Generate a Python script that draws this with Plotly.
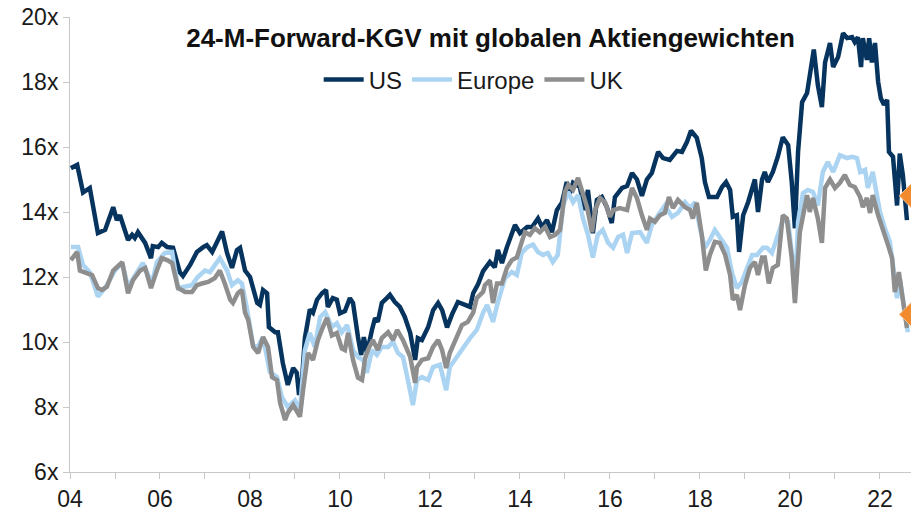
import plotly.graph_objects as go

# ---------------- data ----------------
us_dates = [2004.02, 2004.16, 2004.29, 2004.44, 2004.62, 2004.78, 2004.96, 2005.04, 2005.11, 2005.29,
            2005.38, 2005.44, 2005.51, 2005.67, 2005.80, 2005.84, 2005.96, 2006.04, 2006.16, 2006.29,
            2006.44, 2006.51, 2006.67, 2006.82, 2006.96, 2007.04, 2007.16, 2007.27, 2007.38, 2007.49,
            2007.60, 2007.71, 2007.78, 2007.89, 2008.00, 2008.16, 2008.22, 2008.29, 2008.38, 2008.42,
            2008.56, 2008.62, 2008.73, 2008.84, 2008.96, 2009.04, 2009.09, 2009.16, 2009.22, 2009.33,
            2009.40, 2009.49, 2009.60, 2009.69, 2009.73, 2009.84, 2009.93, 2010.00, 2010.11, 2010.22,
            2010.29, 2010.40, 2010.47, 2010.53, 2010.60, 2010.71, 2010.78, 2010.84, 2010.93, 2011.04,
            2011.11, 2011.22, 2011.33, 2011.44, 2011.56, 2011.67, 2011.73, 2011.82, 2011.96, 2012.07,
            2012.18, 2012.27, 2012.38, 2012.49, 2012.62, 2012.78, 2012.89, 2012.96, 2013.07, 2013.18,
            2013.33, 2013.44, 2013.51, 2013.60, 2013.71, 2013.89, 2014.00, 2014.16, 2014.27, 2014.40,
            2014.49, 2014.60, 2014.71, 2014.82, 2014.93, 2015.04, 2015.11, 2015.18, 2015.33, 2015.44,
            2015.51, 2015.62, 2015.71, 2015.82, 2015.93, 2016.04, 2016.11, 2016.27, 2016.38, 2016.49,
            2016.60, 2016.71, 2016.82, 2016.93, 2017.07, 2017.18, 2017.33, 2017.49, 2017.60, 2017.71,
            2017.80, 2017.93, 2018.04, 2018.11, 2018.20, 2018.38, 2018.49, 2018.58, 2018.67, 2018.73,
            2018.82, 2018.87, 2018.96, 2019.07, 2019.22, 2019.29, 2019.38, 2019.44, 2019.51, 2019.62,
            2019.73, 2019.84, 2019.96, 2020.04, 2020.11, 2020.18, 2020.27, 2020.38, 2020.44, 2020.53,
            2020.62, 2020.71, 2020.78, 2020.89, 2020.96, 2021.07, 2021.18, 2021.27, 2021.38, 2021.44,
            2021.51, 2021.58, 2021.62, 2021.71, 2021.76, 2021.82, 2021.89, 2021.96, 2022.02, 2022.09,
            2022.16, 2022.20, 2022.29, 2022.38, 2022.44, 2022.51, 2022.60]
us_values = [15.35, 15.45, 14.6, 14.74, 13.35, 13.45, 14.15, 13.75, 13.9, 13.14,
             13.3, 13.2, 13.38, 13.05, 12.58, 12.95, 12.92, 13.05, 12.92, 12.9,
             12.15, 12.03, 12.37, 12.77, 12.92, 12.98, 12.77, 13.05, 13.4, 12.74,
             12.28, 12.83, 12.9, 12.2, 12.0, 11.2, 11.14, 11.6, 11.5, 10.46,
             10.3, 10.3, 9.35, 8.68, 9.2, 9.05, 8.37, 8.92, 10.12, 11.0,
             10.9, 11.3, 11.5, 11.6, 11.08, 11.35, 11.3, 10.88, 10.95, 11.35,
             11.2, 10.15, 9.6, 10.15, 9.66, 10.37, 10.74, 10.62, 11.2, 11.35,
             11.45, 11.23, 11.08, 10.77, 10.28, 9.45, 10.12, 10.06, 10.46, 10.98,
             11.2, 10.98, 10.45, 10.85, 11.23, 11.14, 11.08, 11.5, 11.78, 12.18,
             12.46, 12.3, 12.83, 12.43, 12.92, 13.6, 13.35, 13.54, 13.54, 13.8,
             13.54, 13.75, 13.38, 14.06, 14.28, 14.92, 14.58, 14.9, 14.77, 14.06,
             14.68, 13.35, 14.37, 14.46, 14.15, 13.66, 14.46, 14.74, 14.8, 15.2,
             15.0, 14.5, 15.0, 15.2, 15.85, 15.66, 15.6, 15.88, 15.85, 16.15,
             16.5, 16.28, 15.66, 14.92, 14.46, 14.46, 14.77, 14.92, 14.68, 13.85,
             13.9, 12.77, 13.9, 14.3, 15.0, 14.0, 15.0, 15.23, 14.92, 15.23,
             15.7, 16.3, 16.06, 14.92, 13.5, 15.85, 17.38, 17.66, 18.3, 19.0,
             17.9, 17.23, 18.6, 19.2, 18.46, 18.77, 19.5, 19.35, 19.38, 19.23,
             19.38, 18.46, 19.35, 18.68, 19.35, 18.6, 19.2, 18.0, 17.5, 17.3,
             17.45, 15.85, 15.7, 14.2, 15.8, 15.12, 13.75]

europe_dates = [2004.02, 2004.18, 2004.29, 2004.44, 2004.62, 2004.78, 2005.00, 2005.16, 2005.29, 2005.49,
                2005.62, 2005.82, 2005.93, 2006.11, 2006.27, 2006.40, 2006.56, 2006.71, 2006.84, 2007.00,
                2007.11, 2007.33, 2007.49, 2007.60, 2007.73, 2007.82, 2007.93, 2008.07, 2008.18, 2008.29,
                2008.44, 2008.60, 2008.71, 2008.84, 2009.00, 2009.11, 2009.22, 2009.33, 2009.44, 2009.56,
                2009.67, 2009.82, 2009.93, 2010.04, 2010.16, 2010.29, 2010.40, 2010.51, 2010.60, 2010.71,
                2010.82, 2010.93, 2011.07, 2011.18, 2011.29, 2011.40, 2011.51, 2011.62, 2011.71, 2011.82,
                2011.96, 2012.07, 2012.22, 2012.36, 2012.44, 2012.60, 2012.73, 2012.89, 2013.04, 2013.18,
                2013.27, 2013.40, 2013.51, 2013.67, 2013.82, 2013.93, 2014.04, 2014.16, 2014.29, 2014.40,
                2014.51, 2014.62, 2014.73, 2014.84, 2014.96, 2015.07, 2015.18, 2015.29, 2015.40, 2015.51,
                2015.62, 2015.73, 2015.84, 2015.96, 2016.07, 2016.18, 2016.29, 2016.38, 2016.49, 2016.67,
                2016.82, 2016.93, 2017.07, 2017.22, 2017.38, 2017.51, 2017.67, 2017.78, 2017.89, 2018.00,
                2018.11, 2018.22, 2018.33, 2018.44, 2018.60, 2018.71, 2018.82, 2018.93, 2019.04, 2019.16,
                2019.27, 2019.40, 2019.49, 2019.60, 2019.71, 2019.84, 2019.96, 2020.07, 2020.11, 2020.18,
                2020.29, 2020.40, 2020.51, 2020.62, 2020.73, 2020.84, 2020.96, 2021.11, 2021.27, 2021.38,
                2021.49, 2021.56, 2021.67, 2021.73, 2021.84, 2021.93, 2022.00, 2022.11, 2022.22, 2022.29,
                2022.38, 2022.44, 2022.53, 2022.62]
europe_values = [12.92, 12.92, 12.37, 12.15, 11.4, 11.66, 12.2, 12.43, 11.7, 12.15,
                 12.43, 11.8, 12.46, 12.74, 12.77, 11.66, 11.7, 11.75, 12.0, 12.2,
                 12.15, 12.58, 12.2, 11.75, 11.9, 11.8, 11.05, 9.9, 9.85, 10.15,
                 9.08, 8.92, 8.3, 8.0, 8.2, 7.9, 9.75, 10.28, 9.85, 10.77,
                 10.92, 10.46, 10.58, 10.3, 10.52, 9.75, 9.54, 9.45, 9.05, 9.75,
                 9.6, 9.85, 9.85, 10.0, 9.66, 9.54, 8.83, 8.06, 8.83, 8.92,
                 8.83, 9.23, 9.3, 8.52, 9.23, 9.54, 9.85, 10.12, 10.37, 10.9,
                 11.14, 10.62, 11.23, 11.97, 12.15, 12.06, 12.74, 12.92, 13.0, 12.77,
                 12.68, 12.74, 12.46, 12.68, 14.2, 14.62, 14.3, 14.52, 13.8, 13.3,
                 12.6, 13.3, 13.45, 13.05, 12.9, 13.23, 13.3, 12.74, 13.35, 13.38,
                 13.05, 13.6, 13.9, 14.2, 13.85, 13.97, 14.3, 14.12, 14.3, 13.5,
                 12.9, 13.14, 13.45, 13.2, 12.9, 12.15, 11.66, 11.85, 12.28, 12.68,
                 12.68, 12.9, 12.9, 12.74, 13.2, 13.75, 13.7, 12.4, 11.35, 13.7,
                 14.58, 14.68, 14.62, 14.2, 15.23, 15.54, 15.23, 15.75, 15.66, 15.7,
                 15.66, 15.23, 15.3, 14.74, 15.23, 14.52, 14.0, 13.5, 13.08, 12.37,
                 11.35, 11.97, 11.05, 10.3]

uk_dates = [2004.02, 2004.16, 2004.22, 2004.38, 2004.49, 2004.62, 2004.71, 2004.82, 2004.96, 2005.16,
            2005.29, 2005.40, 2005.56, 2005.67, 2005.80, 2005.93, 2006.04, 2006.16, 2006.27, 2006.40,
            2006.56, 2006.71, 2006.82, 2006.93, 2007.07, 2007.22, 2007.33, 2007.44, 2007.56, 2007.62,
            2007.73, 2007.82, 2007.89, 2007.96, 2008.07, 2008.18, 2008.29, 2008.40, 2008.49, 2008.60,
            2008.67, 2008.78, 2008.84, 2008.96, 2009.11, 2009.18, 2009.29, 2009.40, 2009.51, 2009.62,
            2009.71, 2009.82, 2009.93, 2010.04, 2010.11, 2010.18, 2010.29, 2010.40, 2010.49, 2010.56,
            2010.62, 2010.73, 2010.84, 2010.93, 2011.07, 2011.18, 2011.27, 2011.40, 2011.56, 2011.67,
            2011.71, 2011.82, 2011.96, 2012.07, 2012.18, 2012.27, 2012.36, 2012.44, 2012.56, 2012.71,
            2012.84, 2012.96, 2013.04, 2013.18, 2013.22, 2013.33, 2013.40, 2013.49, 2013.60, 2013.71,
            2013.82, 2013.93, 2014.04, 2014.11, 2014.22, 2014.33, 2014.44, 2014.56, 2014.67, 2014.78,
            2014.89, 2015.00, 2015.07, 2015.18, 2015.29, 2015.38, 2015.49, 2015.60, 2015.67, 2015.78,
            2015.89, 2016.00, 2016.07, 2016.22, 2016.38, 2016.49, 2016.60, 2016.71, 2016.82, 2016.89,
            2017.00, 2017.11, 2017.22, 2017.31, 2017.40, 2017.51, 2017.67, 2017.78, 2017.84, 2017.93,
            2018.04, 2018.13, 2018.22, 2018.33, 2018.44, 2018.56, 2018.67, 2018.73, 2018.82, 2018.89,
            2019.00, 2019.11, 2019.22, 2019.29, 2019.38, 2019.44, 2019.53, 2019.62, 2019.73, 2019.84,
            2019.93, 2020.04, 2020.11, 2020.22, 2020.38, 2020.44, 2020.51, 2020.62, 2020.71, 2020.78,
            2020.89, 2021.00, 2021.11, 2021.22, 2021.33, 2021.44, 2021.56, 2021.62, 2021.71, 2021.78,
            2021.84, 2021.96, 2022.07, 2022.18, 2022.27, 2022.33, 2022.42, 2022.51, 2022.60]
uk_values = [12.52, 12.77, 12.2, 12.12, 12.06, 11.66, 11.6, 11.7, 12.2, 12.46,
             11.5, 11.9, 12.2, 12.28, 11.66, 12.2, 12.58, 12.52, 12.43, 11.66,
             11.54, 11.54, 11.75, 11.8, 11.85, 11.97, 12.2, 11.8, 11.3, 11.2,
             11.5, 11.6, 10.9, 10.68, 9.85, 9.66, 10.15, 9.85, 8.92, 8.83,
             8.12, 7.6, 7.82, 8.06, 7.7, 8.52, 9.66, 9.45, 10.06, 10.46,
             10.74, 10.2, 10.28, 9.8, 9.75, 10.28, 9.45, 8.9, 8.83, 9.5,
             9.75, 10.06, 9.75, 10.12, 10.3, 10.06, 10.37, 10.06, 9.54, 8.74,
             9.23, 9.45, 9.5, 9.85, 10.06, 9.75, 9.2, 9.66, 10.06, 10.52,
             10.62, 10.9, 11.35, 11.54, 11.75, 11.9, 11.2, 11.8, 11.8, 12.28,
             12.52, 12.6, 13.08, 13.38, 13.3, 13.5, 13.38, 13.54, 13.23, 13.3,
             13.45, 14.62, 14.83, 14.68, 15.05, 14.62, 14.15, 13.38, 14.06, 14.43,
             14.3, 13.85, 14.06, 14.12, 14.06, 14.74, 14.43, 13.9, 13.45, 13.8,
             13.7, 13.9, 13.97, 14.46, 14.12, 14.37, 14.15, 14.06, 13.8, 14.28,
             13.3, 12.2, 12.68, 13.08, 13.05, 12.68, 12.06, 11.3, 11.45, 10.98,
             11.75, 12.28, 12.46, 12.06, 12.6, 12.6, 11.8, 12.28, 12.37, 13.9,
             13.8, 12.58, 11.2, 13.38, 14.52, 14.0, 14.43, 13.8, 13.05, 14.74,
             15.0, 14.74, 14.9, 15.14, 14.83, 14.77, 14.46, 14.15, 14.43, 13.97,
             14.52, 13.9, 13.38, 12.98, 12.58, 11.54, 12.15, 11.23, 10.43]

latest_date = [2022.69, 2022.69]
latest_values = [14.5, 10.85]

x_tick_years = [2004, 2006, 2008, 2010, 2012, 2014, 2016, 2018, 2020, 2022]
x_tick_labels = ["04", "06", "08", "10", "12", "14", "16", "18", "20", "22"]
y_tick_values = [6, 8, 10, 12, 14, 16, 18, 20]
y_tick_labels = ["6x", "8x", "10x", "12x", "14x", "16x", "18x", "20x"]

# ---------------- figure ----------------
FONT = "Liberation Sans, Arial, sans-serif"
fig = go.Figure()
fig.add_trace(go.Scatter(x=us_dates, y=us_values, mode="lines", name="US",
                         line=dict(color="#06345E", width=4.5)))
fig.add_trace(go.Scatter(x=europe_dates, y=europe_values, mode="lines", name="Europe",
                         line=dict(color="#ABD4F2", width=4.5)))
fig.add_trace(go.Scatter(x=uk_dates, y=uk_values, mode="lines", name="UK",
                         line=dict(color="#8E8E8E", width=4.5)))
fig.add_trace(go.Scatter(x=latest_date, y=latest_values, mode="markers", showlegend=False,
                         marker=dict(symbol="diamond", size=18, color="#F28A2E",
                                     line=dict(color="#F6C08E", width=1))))

fig.update_layout(
    width=911, height=512,
    margin=dict(l=70, r=0, t=17, b=40, autoexpand=False),
    paper_bgcolor="white", plot_bgcolor="white",
    font=dict(family=FONT, size=23, color="#1a1a1a"),
    title=dict(text="<b>24-M-Forward-KGV mit globalen Aktiengewichten</b>",
               x=0.5, xref="paper", xanchor="center",
               y=0.926, yref="container", yanchor="middle",
               font=dict(family=FONT, size=26, color="#111111")),
    legend=dict(orientation="h", x=0.48, xanchor="center", y=0.862, yanchor="middle",
                font=dict(family=FONT, size=24, color="#1a1a1a"),
                bgcolor="rgba(0,0,0,0)", itemwidth=40, tracegroupgap=0),
    showlegend=True,
)
fig.update_xaxes(
    range=[2004, 2022.69], tickmode="array", tickvals=x_tick_years, ticktext=x_tick_labels,
    automargin=False,
    showgrid=False, zeroline=False, showline=True, linecolor="#C8C8C8", linewidth=1,
    ticks="outside", ticklen=6, tickcolor="#C8C8C8",
    tickfont=dict(family=FONT, size=23, color="#1a1a1a"),
    minor=dict(dtick=1, tick0=2004, ticks="outside", ticklen=6, tickcolor="#C8C8C8", showgrid=False),
)
fig.update_yaxes(
    range=[6, 20], tickmode="array", tickvals=y_tick_values, ticktext=y_tick_labels,
    automargin=False,
    showgrid=False, zeroline=False, showline=True, linecolor="#C8C8C8", linewidth=1,
    ticks="outside", ticklen=6, tickcolor="#C8C8C8",
    tickfont=dict(family=FONT, size=23, color="#1a1a1a"),
)

fig.write_html("out.html", config={"displayModeBar": False},
               post_script="document.body.style.margin='0';")
